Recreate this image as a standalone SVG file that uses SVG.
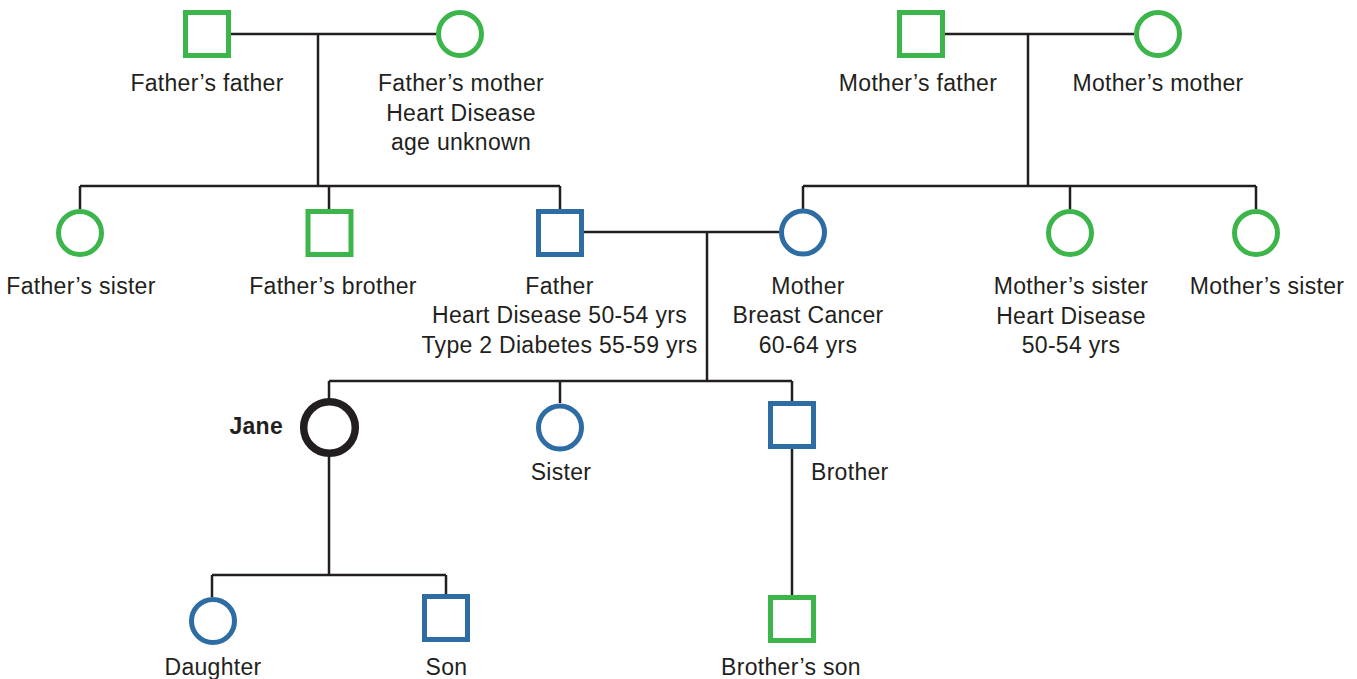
<svg xmlns="http://www.w3.org/2000/svg" width="1357" height="679" viewBox="0 0 1357 679">
<style>
.lbl{font-family:"Liberation Sans",Arial,sans-serif;font-size:23px;letter-spacing:0.3px;fill:#231f20;text-anchor:middle}
.bold{font-weight:bold;text-anchor:end}
.m{fill:none;stroke-width:5}
.g{stroke:#3cb54a}
.b{stroke:#2e6ca4}
.k{stroke:#231f20}
.ln{fill:none;stroke:#231f20;stroke-width:2.5}
</style>
<rect width="1357" height="679" fill="#fff"/>
<g id="connectors" class="ln">
<path d="M231 34H437M318 34V186"/>
<path d="M80 186H560M80 186V209M329 186V209M560 186V209"/>
<path d="M945 34H1134M1028 34V186"/>
<path d="M803 186H1256M803 186V209M1070 186V209M1256 186V209"/>
<path d="M584 232H779M707 232V381"/>
<path d="M329 381H792M329 381V399M560 381V403M792 381V401"/>
<path d="M329 456V575M212 575H446M212 575V597M446 575V594"/>
<path d="M792 449V595"/>
</g>
<g id="fathers-father"><rect class="m g" x="185.5" y="12.5" width="43" height="43"/><text class="lbl" x="207" y="91">Father’s father</text></g>
<g id="fathers-mother"><circle class="m g" cx="460" cy="34" r="21.5"/><text class="lbl" x="461" y="91">Father’s mother</text><text class="lbl" x="461" y="121">Heart Disease</text><text class="lbl" x="461" y="150">age unknown</text></g>
<g id="mothers-father"><rect class="m g" x="899.5" y="12.5" width="43" height="43"/><text class="lbl" x="918" y="91">Mother’s father</text></g>
<g id="mothers-mother"><circle class="m g" cx="1158" cy="34" r="21.5"/><text class="lbl" x="1158" y="91">Mother’s mother</text></g>
<g id="fathers-sister"><circle class="m g" cx="80" cy="233" r="21.5"/><text class="lbl" x="81" y="294">Father’s sister</text></g>
<g id="fathers-brother"><rect class="m g" x="308" y="211.5" width="43" height="43"/><text class="lbl" x="333" y="294">Father’s brother</text></g>
<g id="father"><rect class="m b" x="538.5" y="211.5" width="43" height="43"/><text class="lbl" x="559.5" y="294">Father</text><text class="lbl" x="559.5" y="323">Heart Disease 50-54 yrs</text><text class="lbl" x="559.5" y="353">Type 2 Diabetes 55-59 yrs</text></g>
<g id="mother"><circle class="m b" cx="803" cy="232.5" r="21.5"/><text class="lbl" x="808" y="294">Mother</text><text class="lbl" x="808" y="323">Breast Cancer</text><text class="lbl" x="808" y="353">60-64 yrs</text></g>
<g id="mothers-sister-1"><circle class="m g" cx="1070" cy="233" r="21.5"/><text class="lbl" x="1071" y="294">Mother’s sister</text><text class="lbl" x="1071" y="324">Heart Disease</text><text class="lbl" x="1071" y="353">50-54 yrs</text></g>
<g id="mothers-sister-2"><circle class="m g" cx="1256" cy="233" r="21.5"/><text class="lbl" x="1267" y="294">Mother’s sister</text></g>
<g id="jane"><circle class="k" fill="none" stroke-width="7.5" cx="329.5" cy="427.5" r="25.8"/><text class="lbl bold" x="283" y="434">Jane</text></g>
<g id="sister"><circle class="m b" cx="560" cy="427.5" r="21.5"/><text class="lbl" x="561" y="480">Sister</text></g>
<g id="brother"><rect class="m b" x="770.5" y="403.5" width="43" height="43"/><text class="lbl" x="811" y="480" style="text-anchor:start">Brother</text></g>
<g id="daughter"><circle class="m b" cx="213" cy="621" r="21.5"/><text class="lbl" x="213" y="675">Daughter</text></g>
<g id="son"><rect class="m b" x="424.5" y="596.5" width="43" height="43"/><text class="lbl" x="446.5" y="675">Son</text></g>
<g id="brothers-son"><rect class="m g" x="770.5" y="597.5" width="43" height="43"/><text class="lbl" x="791" y="675">Brother’s son</text></g>
</svg>
